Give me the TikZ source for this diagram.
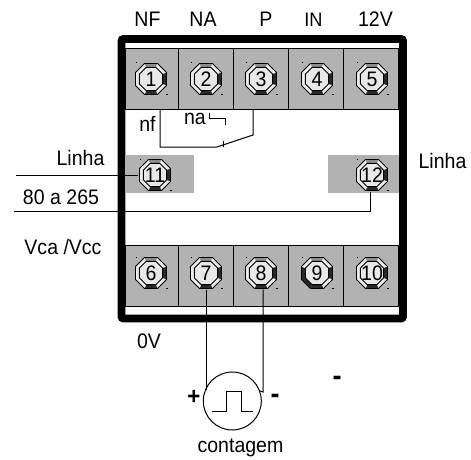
\documentclass[tikz,border=0pt]{standalone}
\usepackage{fontspec}
\setmainfont[FakeStretch=0.93]{Liberation Sans}
\definecolor{cellgray}{HTML}{B2B2B2}
\definecolor{facegray}{HTML}{E8E8E8}
\definecolor{bevellight}{HTML}{EDEDED}
\definecolor{bevelmid}{HTML}{8C8C8C}
\definecolor{beveldark}{HTML}{2A2A2A}
\tikzset{
  x=1pt,y=-1pt,
  cell/.style={fill=cellgray,draw=black,line width=0.9pt},
  wire/.style={draw=black,line width=1pt,line join=miter},
  lbl/.style={font=\fontsize{21}{22}\selectfont,inner sep=0pt,anchor=center,text=black},
  plus lbl/.style={font=\fontsize{24}{24}\selectfont\bfseries,inner sep=0pt,anchor=center,text=black},
  minus lbl/.style={font=\fontsize{29}{29}\selectfont\bfseries,inner sep=0pt,anchor=center,text=black},
  termnum/.style={circle,minimum size=33pt,inner sep=0pt,font=\fontsize{21}{22}\selectfont},
}
% terminal: bevelled octagon with a named number node; #1 colours the left and lower-left facets
\newcommand{\terminal}[4][bevellight]{%
  \begin{scope}[shift={(#2)}]
    \foreach \k/\ang in {0/22.5,1/67.5,2/112.5,3/157.5,4/202.5,5/247.5,6/292.5,7/337.5}{
      \coordinate (o\k) at (\ang:16.8);
      \coordinate (i\k) at (\ang:12.6);
    }
    % y axis is flipped: angle 90 points down the page
    \fill[bevellight] (o0)--(o1)--(i1)--(i0)--cycle;
    \fill[beveldark] (o1)--(o2)--(i2)--(i1)--cycle;
    \fill[#1] (o2)--(o3)--(i3)--(i2)--cycle;
    \fill[#1] (o3)--(o4)--(i4)--(i3)--cycle;
    \fill[bevellight] (o4)--(o5)--(i5)--(i4)--cycle;
    \fill[bevelmid] (o5)--(o6)--(i6)--(i5)--cycle;
    \fill[bevellight] (o6)--(o7)--(i7)--(i6)--cycle;
    \fill[beveldark] (o7)--(o0)--(i0)--(i7)--cycle;
    \draw[line width=0.8pt] (o0)--(o1)--(o2)--(o3)--(o4)--(o5)--(o6)--(o7)--cycle;
    \draw[line width=0.8pt,fill=facegray] (i0)--(i1)--(i2)--(i3)--(i4)--(i5)--(i6)--(i7)--cycle;
    \fill[black] (-15.5,-16.5) rectangle +(1,1);
    \fill[black] (15.2,14.8) rectangle +(1.3,1.3);
  \end{scope}
  \node[termnum] (#3) at (#2) {#4};
}
\begin{document}
\begin{tikzpicture}
\useasboundingbox (0,0) rectangle (471,460);
\fill[white] (0,0) rectangle (471,460);
% frame
\draw[line width=7.8pt,rounded corners=2pt] (121.5,39) rectangle (403,318.5);
% rows of cells
\foreach \a/\b in {125/178,178/233,233/288,288/343,343/398.6}{
  \draw[cell] (\a,48.5) rectangle (\b,109);
  \draw[cell] (\a,245) rectangle (\b,306);
}
% side cells
\fill[cellgray] (124.5,155) rectangle (194,193);
\fill[cellgray] (328,155) rectangle (399,193);
% terminals
\terminal{151,79}{t1}{1}
\terminal{206,79}{t2}{2}
\terminal{261,79}{t3}{3}
\terminal{317,79}{t4}{4}
\terminal{372,79}{t5}{5}
\terminal{155,175}{t11}{11}
\terminal{372,175}{t12}{12}
\terminal{151,273}{t6}{6}
\terminal{206,273}{t7}{7}
\terminal{261,273}{t8}{8}
\terminal[beveldark]{317,273}{t9}{9}
\terminal{372,273}{t10}{10}
% free wire ends
\coordinate (lineA) at (16,175);
\coordinate (lineB) at (14,211);
\coordinate (relayNF) at (160,109);
\coordinate (relayP) at (253,109);
% wires
\draw[wire] (lineA) -- (t11.west);
\draw[wire] (lineB) -- (370.5,211) -- ([xshift=-1.5pt]t12.south);
\draw[wire] (relayNF) -- (160,147) -- (217,147) -- (253,135) -- (relayP);
\draw[wire] (223,141) -- (223,147);
\draw[wire] (209,113) -- (209,118) -- (225,118) -- (225,125);
% counter
\node[circle,draw=black,line width=1pt,minimum size=58pt,inner sep=0pt] (cnt) at (232.3,401) {};
\draw[wire] (t7.south) -- (206,390);
\draw[wire] ([xshift=2pt]t8.south) -- (263,392) -- (cnt.20);
\draw[wire] (212,411) -- (226,411) -- (226,391) -- (241,391) -- (241,411) -- (253,411);
% labels
\node[lbl] (lNF) at (147.5,19) {NF};
\node[lbl] (lNA) at (203,19) {NA};
\node[lbl] (lP) at (266,19) {P};
\node[lbl,font=\fontsize{19.5}{22}\selectfont] (lIN) at (313.5,20) {IN};
\node[lbl] (l12V) at (375.5,19) {12V};
\node[lbl] (lnf) at (147.5,124) {nf};
\node[lbl] (lna) at (195,119) {na};
\node[lbl] (lL1) at (80.5,158) {Linha};
\node[lbl] (lL2) at (442.5,161) {Linha};
\node[lbl] (l80) at (61,197) {80 a 265};
\node[lbl] (lV) at (63,247) {Vca /Vcc};
\node[lbl] (l0V) at (149,341) {0V};
\node[plus lbl] (lplus) at (194,397) {+};
\node[minus lbl] (lminus) at (275,399) {-};
\node[minus lbl] (lminus2) at (337,381) {-};
\node[lbl] (lcont) at (240.5,448) {contagem};
\end{tikzpicture}
\end{document}
